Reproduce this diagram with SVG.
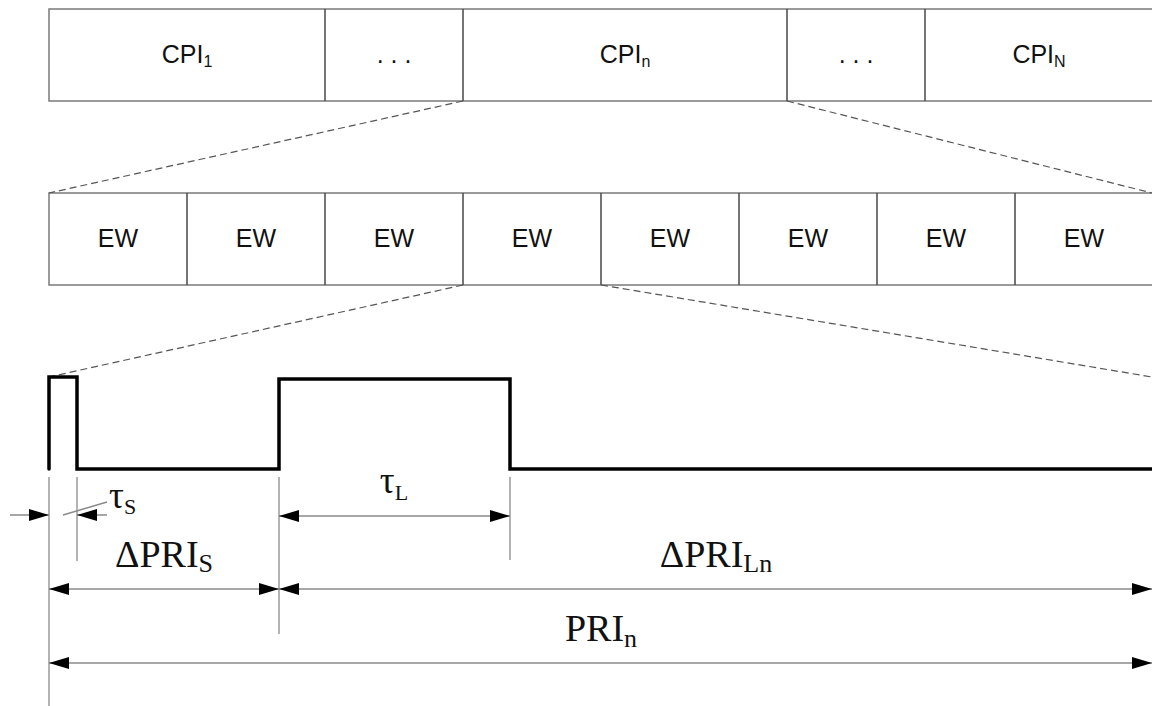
<svg xmlns="http://www.w3.org/2000/svg" width="1152" height="706" viewBox="0 0 1152 706">
<style>
  .box { fill: #ffffff; stroke: #7a7a7a; stroke-width: 1.5; }
  .div { stroke: #474747; stroke-width: 1.5; }
  .lbl { font-family: "Liberation Sans", Arial, sans-serif; font-size: 25px; fill: #111; text-anchor: middle; }
  .sub { font-size: 16px; }
  .dash { stroke: #555; stroke-width: 1.2; stroke-dasharray: 7 4; fill: none; }
  .pulse { stroke: #000; stroke-width: 3.5; fill: none; stroke-linejoin: miter; stroke-linecap: round; }
  .ext { stroke: #8a8a8a; stroke-width: 1.3; fill: none; }
  .dim { stroke: #8a8a8a; stroke-width: 1.5; fill: none; }
  .ser { font-family: "Liberation Serif", "Times New Roman", serif; font-size: 38px; fill: #111; text-anchor: middle; }
  .ssub { font-size: 26px; }
  .tau { font-size: 37px; }
  .tsub { font-size: 22px; }
</style>
<defs>
  <marker id="ah" markerUnits="userSpaceOnUse" markerWidth="20" markerHeight="12" refX="20" refY="6" orient="auto-start-reverse">
    <path d="M0,0 L20,6 L0,12 Z" fill="#000"/>
  </marker>
</defs>

<!-- top row: CPI frames -->
<g id="cpi-row">
  <rect class="box" x="49" y="9" width="1110" height="92"/>
  <g id="cpi1"><text class="lbl" x="187" y="63">CPI<tspan class="sub" dy="3.5">1</tspan></text></g>
  <g id="cpi-dots1"><line class="div" x1="325" y1="9" x2="325" y2="101"/><text class="lbl" x="394" y="63">. . .</text></g>
  <g id="cpin"><line class="div" x1="463" y1="9" x2="463" y2="101"/><text class="lbl" x="625" y="63">CPI<tspan class="sub" dy="3.5">n</tspan></text></g>
  <g id="cpi-dots2"><line class="div" x1="787" y1="9" x2="787" y2="101"/><text class="lbl" x="856" y="63">. . .</text></g>
  <g id="cpiN"><line class="div" x1="925" y1="9" x2="925" y2="101"/><text class="lbl" x="1039" y="63">CPI<tspan class="sub" dy="3.5">N</tspan></text></g>
</g>

<!-- second row: EW slots -->
<g id="ew-row">
  <rect class="box" x="49" y="193" width="1110" height="92"/>
  <g id="ew1"><text class="lbl" x="118" y="247">EW</text></g>
  <g id="ew2"><line class="div" x1="187" y1="193" x2="187" y2="285"/><text class="lbl" x="256" y="247">EW</text></g>
  <g id="ew3"><line class="div" x1="325" y1="193" x2="325" y2="285"/><text class="lbl" x="394" y="247">EW</text></g>
  <g id="ew4"><line class="div" x1="463" y1="193" x2="463" y2="285"/><text class="lbl" x="532" y="247">EW</text></g>
  <g id="ew5"><line class="div" x1="601" y1="193" x2="601" y2="285"/><text class="lbl" x="670" y="247">EW</text></g>
  <g id="ew6"><line class="div" x1="739" y1="193" x2="739" y2="285"/><text class="lbl" x="808" y="247">EW</text></g>
  <g id="ew7"><line class="div" x1="877" y1="193" x2="877" y2="285"/><text class="lbl" x="946" y="247">EW</text></g>
  <g id="ew8"><line class="div" x1="1015" y1="193" x2="1015" y2="285"/><text class="lbl" x="1084" y="247">EW</text></g>
</g>

<!-- zoom connectors -->
<g id="connectors">
  <line class="dash" x1="463" y1="101" x2="49" y2="193"/>
  <line class="dash" x1="787" y1="101" x2="1152" y2="193"/>
  <line class="dash" x1="463" y1="285" x2="49" y2="377"/>
  <line class="dash" x1="601" y1="285" x2="1152" y2="377"/>
</g>

<!-- pulse train -->
<g id="pulse">
  <path class="pulse" d="M49,469 V377 H77 V469 H279 V379 H510 V469 H1156"/>
</g>

<!-- dimensioning -->
<g id="dimensions">
  <line class="ext" x1="49" y1="477" x2="49" y2="706"/>
  <line class="ext" x1="77" y1="477" x2="77" y2="561"/>
  <line class="ext" x1="279" y1="477" x2="279" y2="634"/>
  <line class="ext" x1="510" y1="477" x2="510" y2="560"/>

  <g id="dim-tauS">
    <line class="dim" x1="10" y1="515" x2="49" y2="515" marker-end="url(#ah)"/>
    <line class="dim" x1="107" y1="515" x2="77" y2="515" marker-end="url(#ah)"/>
    <line class="dim" x1="63" y1="515" x2="107" y2="502"/>
    <text class="ser tau" x="109" y="508" style="text-anchor:start">τ<tspan class="tsub" dy="6">S</tspan></text>
  </g>
  <g id="dim-tauL">
    <line class="dim" x1="279" y1="516" x2="510" y2="516" marker-start="url(#ah)" marker-end="url(#ah)"/>
    <text class="ser tau" x="394" y="493">τ<tspan class="tsub" dy="7">L</tspan></text>
  </g>
  <g id="dim-dPRIS">
    <line class="dim" x1="49" y1="589" x2="279" y2="589" marker-start="url(#ah)" marker-end="url(#ah)"/>
    <text class="ser" x="164" y="567">ΔPRI<tspan class="ssub" dy="5">S</tspan></text>
  </g>
  <g id="dim-dPRILn">
    <line class="dim" x1="279" y1="589" x2="1152" y2="589" marker-start="url(#ah)" marker-end="url(#ah)"/>
    <text class="ser" x="716" y="567">ΔPRI<tspan class="ssub" dy="5">Ln</tspan></text>
  </g>
  <g id="dim-PRIn">
    <line class="dim" x1="49" y1="663" x2="1152" y2="663" marker-start="url(#ah)" marker-end="url(#ah)"/>
    <text class="ser" x="601" y="641">PRI<tspan class="ssub" dy="6">n</tspan></text>
  </g>
</g>
</svg>
